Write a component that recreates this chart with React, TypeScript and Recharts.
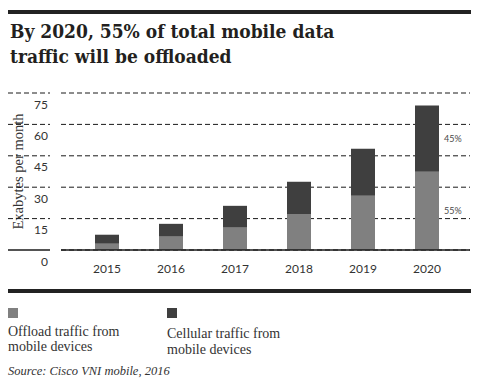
import { BarChart, Bar, XAxis, YAxis, CartesianGrid, LabelList } from 'recharts';

const years = ['2015', '2016', '2017', '2018', '2019', '2020'];
const offload = [3.0, 6.4, 10.7, 17.2, 25.9, 37.4];
const cellular = [4.3, 6.1, 10.4, 15.4, 22.5, 31.6];
const yTicks = [0, 15, 30, 45, 60, 75];
const offloadShare = '55%';
const cellularShare = '45%';

const data = years.map((year, i) => ({
  year,
  offload: offload[i],
  cellular: cellular[i],
}));

const serif = '"Liberation Serif", "DejaVu Serif", serif';
const slab = '"DejaVu Serif Condensed", "DejaVu Serif", serif';
const sans = 'Lato, "Open Sans", sans-serif';

function YTick(props: any) {
  const { y, payload } = props;
  const isZero = payload.value === 0;
  return (
    <g>
      <line
        x1={8}
        x2={50}
        y1={y}
        y2={y}
        stroke="#1a1a1a"
        strokeWidth={isZero ? 1.5 : 1}
        strokeDasharray={isZero ? undefined : '5 3'}
      />
      <text x={48} y={y + 15.5} textAnchor="end" fontSize={12} fontFamily={sans} fill="#333">
        {payload.value}
      </text>
    </g>
  );
}

function shareLabel(text: string) {
  return (props: any) => {
    const { x, y, width, height, index } = props;
    if (index !== years.length - 1) return null;
    return (
      <text
        x={x + width + 5}
        y={y + height / 2 + 3}
        fontSize={9}
        fontFamily={sans}
        fill="#4a4a4a"
      >
        {text}
      </text>
    );
  };
}

export default function App() {
  return (
    <div style={{ position: 'absolute', left: 0, top: 0, width: 479, height: 385, background: '#fff' }}>
      <div style={{ position: 'absolute', left: 8, top: 10, width: 463, height: 4, background: '#222' }} />
      <div
        style={{
          position: 'absolute',
          left: 10,
          top: 19,
          fontFamily: slab,
          fontWeight: 'bold',
          fontSize: 19,
          lineHeight: '25px',
          color: '#231f20',
        }}
      >
        By 2020, 55% of total mobile data
        <br />
        traffic will be offloaded
      </div>

      <div style={{ position: 'absolute', left: 0, top: 80 }}>
        <BarChart
          width={479}
          height={200}
          data={data}
          margin={{ top: 13, right: 9, bottom: 0, left: 8 }}
          barSize={24}
        >
          <CartesianGrid vertical={false} stroke="#1a1a1a" strokeDasharray="5 3" />
          <XAxis
            dataKey="year"
            axisLine={{ stroke: '#1a1a1a', strokeWidth: 1.5 }}
            tickLine={false}
            tickMargin={8}
            height={30}
            padding={{ left: 14, right: 11 }}
            tick={{ fontSize: 12, fontFamily: sans, fill: '#333' }}
          />
          <YAxis
            width={53}
            domain={[0, 75]}
            ticks={yTicks}
            axisLine={false}
            tickLine={false}
            tick={<YTick />}
            label={{
              content: (p: any) => {
                const vb = p.viewBox;
                const cy = vb.y + vb.height / 2;
                return (
                  <text
                    x={20}
                    y={cy}
                    transform={`rotate(-90 20 ${cy})`}
                    textAnchor="middle"
                    dominantBaseline="middle"
                    fontSize={14.5}
                    fontFamily={serif}
                    fill="#333"
                    stroke="#fff"
                    strokeWidth={3}
                    paintOrder="stroke"
                  >
                    Exabytes per month
                  </text>
                );
              },
            }}
          />
          <Bar dataKey="offload" stackId="a" fill="#808080" isAnimationActive={false}>
            <LabelList dataKey="offload" content={shareLabel(offloadShare)} />
          </Bar>
          <Bar dataKey="cellular" stackId="a" fill="#3f3f3f" isAnimationActive={false}>
            <LabelList dataKey="cellular" content={shareLabel(cellularShare)} />
          </Bar>
        </BarChart>
      </div>

      <div style={{ position: 'absolute', left: 8, top: 289, width: 463, height: 4, background: '#222' }} />

      <div style={{ position: 'absolute', left: 8, top: 308, width: 10, height: 10, background: '#808080' }} />
      <div style={{ position: 'absolute', left: 167, top: 308, width: 10, height: 10, background: '#3f3f3f' }} />
      <div
        style={{
          position: 'absolute',
          left: 8,
          top: 324,
          fontFamily: serif,
          fontSize: 14,
          lineHeight: '15px',
          color: '#333',
        }}
      >
        Offload traffic from
        <br />
        mobile devices
      </div>
      <div
        style={{
          position: 'absolute',
          left: 167,
          top: 326,
          fontFamily: serif,
          fontSize: 14,
          lineHeight: '16px',
          color: '#333',
        }}
      >
        Cellular traffic from
        <br />
        mobile devices
      </div>
      <div
        style={{
          position: 'absolute',
          left: 8,
          top: 364,
          fontFamily: serif,
          fontStyle: 'italic',
          fontSize: 12.5,
          color: '#333',
        }}
      >
        Source: Cisco VNI mobile, 2016
      </div>
    </div>
  );
}
